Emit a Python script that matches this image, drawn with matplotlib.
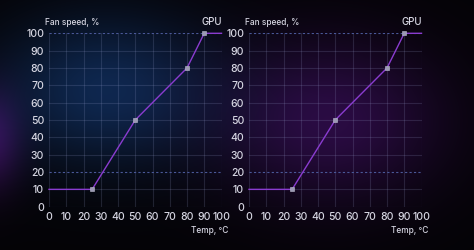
import numpy as np
import matplotlib
matplotlib.use("Agg")
import matplotlib.pyplot as plt

# Dane krzywej wentylatora
temp = [0, 25, 50, 80, 90, 100]
fan_speed = [10, 10, 50, 80, 100, 100]
marker_temp = [25, 50, 80, 90]
marker_speed = [10, 50, 80, 100]
x_ticks = [0, 10, 20, 30, 40, 50, 60, 70, 80, 90, 100]
y_ticks = [0, 10, 20, 30, 40, 50, 60, 70, 80, 90, 100]
dashed_y = [20, 100]

W, H = 474, 250
fig = plt.figure(figsize=(W / 100, H / 100), dpi=100)
fig.patch.set_facecolor("#040306")

# --- tlo z poswiata ---
yy, xx = np.mgrid[0:H, 0:W]


def glow(cx, cy, sx, sy):
    return np.exp(-(((xx - cx) / sx) ** 2 + ((yy - cy) / sy) ** 2))


img = np.zeros((H, W, 3))
img += np.array([4, 3, 6]) / 255
img += glow(105, 90, 110, 75)[..., None] * np.array([10, 36, 72]) / 255
img += glow(330, 120, 110, 80)[..., None] * np.array([38, 8, 60]) / 255
img += glow(-10, 140, 30, 50)[..., None] * np.array([45, 8, 65]) / 255
img = np.clip(img, 0, 1)
bg = fig.add_axes([0, 0, 1, 1])
bg.imshow(img, aspect="auto", extent=[0, W, H, 0])
bg.axis("off")

txt = "#d6d6e2"
grid_c = "#9aa2d0"
dash_c = "#4a5898"
line_c = "#8a3cd0"
font = "Inter"

for x0 in [49, 249]:
    ax = fig.add_axes([x0 / W, (H - 206.7) / H, 172.5 / W, 173.4 / H])
    ax.set_facecolor("none")
    ax.set_xlim(0, 100)
    ax.set_ylim(0, 100)
    for s in ax.spines.values():
        s.set_visible(False)
    for v in x_ticks:
        ax.axvline(v, color=grid_c, alpha=0.18, lw=0.8, zorder=1)
    for v in y_ticks:
        if v in dashed_y:
            ax.axhline(v, color=dash_c, lw=0.8, ls=(0, (2, 2)), zorder=1)
        else:
            ax.axhline(v, color=grid_c, alpha=0.18, lw=0.8, zorder=1)
    ax.plot(temp, fan_speed, color=line_c, lw=1.0, zorder=3, clip_on=False)
    ax.plot(marker_temp, marker_speed, ls="none", marker="s", ms=3.2,
            mfc="#9c9ab4", mec="#bcbcd0", mew=0.4, zorder=4, clip_on=False)
    ax.set_xticks(x_ticks)
    ax.set_yticks(y_ticks)
    ax.tick_params(length=0, colors=txt, labelsize=7.5, pad=3.5)
    for lab in ax.get_xticklabels() + ax.get_yticklabels():
        lab.set_family(font)
        lab.set_weight("medium")
    ax.text(-0.025, 1.035, "Fan speed, %", transform=ax.transAxes, color=txt,
            fontsize=6.0, family=font, weight="medium", ha="left", va="bottom")
    ax.text(1.0, 1.035, "GPU", transform=ax.transAxes, color=txt,
            fontsize=7, family=font, weight="medium", ha="right", va="bottom")
    ax.text(1.04, -0.11, "Temp, °C", transform=ax.transAxes, color=txt,
            fontsize=6.0, family=font, weight="medium", ha="right", va="top")

fig.savefig("out.png", dpi=100, facecolor=fig.get_facecolor())
